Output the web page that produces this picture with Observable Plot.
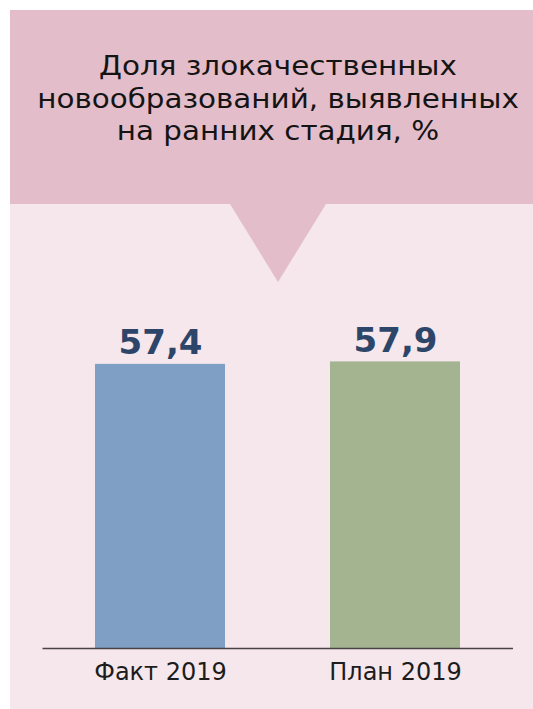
<!DOCTYPE html>
<html><head><meta charset="utf-8">
<script src="https://cdn.jsdelivr.net/npm/d3@7"></script>
<script src="https://cdn.jsdelivr.net/npm/@observablehq/plot@0.6"></script>
<style>
body{margin:0;background:#fff;font-family:"DejaVu Sans",Verdana,sans-serif;}
#panel{position:absolute;left:10px;top:10px;width:523px;height:699px;background:#f5e7ec;overflow:hidden;}
#band{position:absolute;left:0;top:0;width:523px;height:194px;background:#e3bdc9;}
#title{position:absolute;left:0;top:40px;width:536px;text-align:center;font-size:26px;line-height:32.5px;color:#141414;transform:scaleX(1.13);transform-origin:268px 0;}
#tri{position:absolute;left:220px;top:194px;width:0;height:0;border-left:48px solid transparent;border-right:48px solid transparent;border-top:78px solid #e3bdc9;}
#chart{position:absolute;left:-10px;top:-10px;}
</style>
</head><body>
<div id="panel">
  <div id="band"></div>
  <div id="tri"></div>
  <div id="title">Доля злокачественных<br>новообразований, выявленных<br>на ранних стадия, %</div>
  <div id="chart"></div>
</div>
<script>
const categories = ["Факт 2019", "План 2019"];
const values = [57.4, 57.9];
const barColors = ["#7f9fc4", "#a5b490"];

const data = categories.map((c, i) => ({cat: c, value: values[i]}));
const fmt = v => v.toFixed(1).replace(".", ",");

const chart = Plot.plot({
  width: 533,
  height: 709,
  marginLeft: 42.5,
  marginRight: 20,
  marginBottom: 61,
  marginTop: 153,
  style: {background: "transparent", fontFamily: "'DejaVu Sans', Verdana, sans-serif", overflow: "visible"},
  x: {domain: categories, paddingInner: 0.445, paddingOuter: 0.2225, label: null},
  y: {domain: [0, 100], axis: null},
  color: {domain: categories, range: barColors},
  marks: [
    Plot.barY(data, {x: "cat", y: "value", fill: "cat"}),
    Plot.ruleY([0], {stroke: "#4a4245", strokeWidth: 1.5}),
    Plot.text(data, {x: "cat", y: "value", text: d => fmt(d.value), dy: -10, lineAnchor: "bottom",
      fontSize: 34, fontWeight: "bold", fill: "#2d4569"}),
    Plot.axisX({tickSize: 0, tickPadding: 14, fontSize: 24, fill: "#1c1c1c", label: null})
  ]
});
document.getElementById("chart").appendChild(chart);
</script>
</body></html>
